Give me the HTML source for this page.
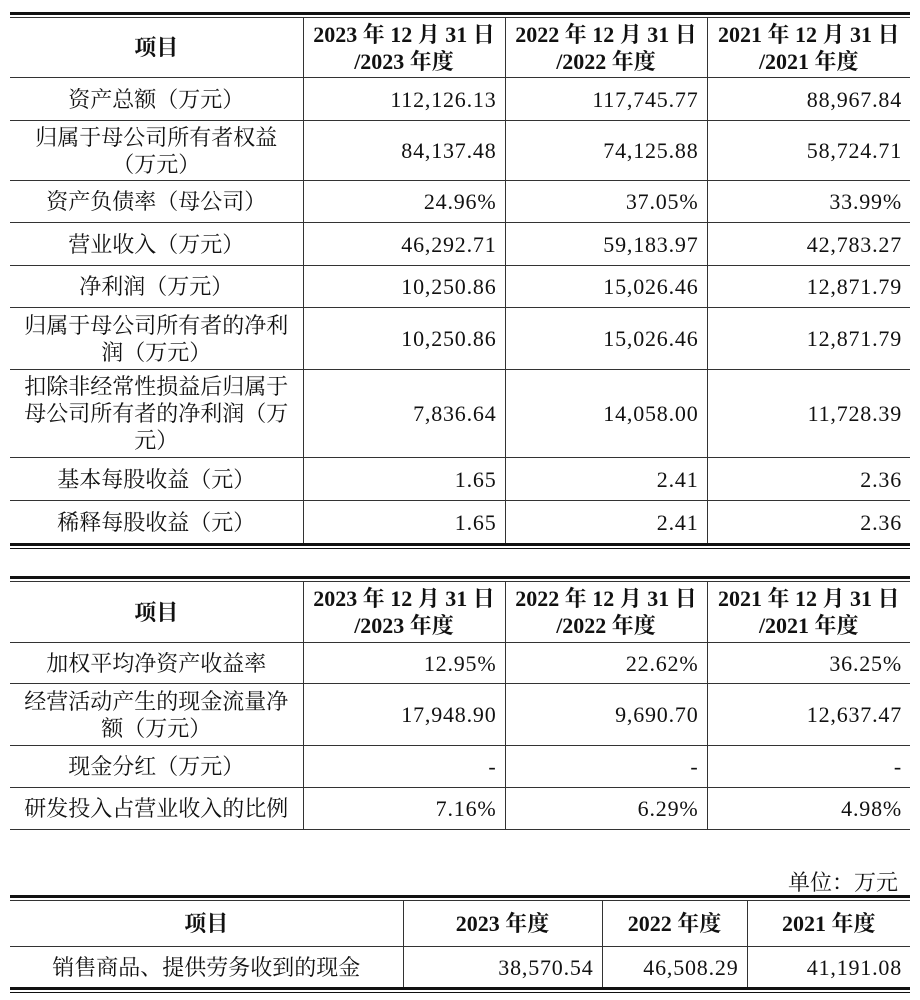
<!DOCTYPE html>
<html><head><meta charset="utf-8"><style>
body{margin:0;width:920px;height:1000px;background:#fff;position:relative;font-family:"Liberation Serif","Noto Serif CJK SC",serif;font-size:22px;color:#111;}
table{position:absolute;left:10px;width:900px;border-collapse:collapse;table-layout:fixed;}
td{border:1px solid #333;padding:0 10px 0 0;line-height:27px;}
tr td:first-child{border-left:none;text-align:center;padding:0 2px;white-space:nowrap;}
tr td:last-child{border-right:none;}
td.n{text-align:right;letter-spacing:0.8px;padding-right:8px;}
th{font-weight:bold;border:1px solid #333;line-height:27px;padding:0;white-space:nowrap;}
tr th:first-child{border-left:none;}tr th:last-child{border-right:none;}
.dl{position:absolute;left:10px;width:900px;height:2px;border-top:3px solid #111;border-bottom:1px solid #111;}
.u{position:absolute;right:22px;top:866px;}
</style></head><body>
<div class="dl" style="top:12px"></div>
<table style="top:17px">
<colgroup><col style="width:293px"><col style="width:202px"><col style="width:202px"><col style="width:203px"></colgroup>
<tr style="height:60px"><th>项目</th><th>2023 年 12 月 31 日<br>/2023 年度</th><th>2022 年 12 月 31 日<br>/2022 年度</th><th>2021 年 12 月 31 日<br>/2021 年度</th></tr>
<tr style="height:43px"><td>资产总额（万元）</td><td class="n">112,126.13</td><td class="n">117,745.77</td><td class="n">88,967.84</td></tr>
<tr style="height:60px"><td>归属于母公司所有者权益<br>（万元）</td><td class="n">84,137.48</td><td class="n">74,125.88</td><td class="n">58,724.71</td></tr>
<tr style="height:42px"><td>资产负债率（母公司）</td><td class="n">24.96%</td><td class="n">37.05%</td><td class="n">33.99%</td></tr>
<tr style="height:43px"><td>营业收入（万元）</td><td class="n">46,292.71</td><td class="n">59,183.97</td><td class="n">42,783.27</td></tr>
<tr style="height:42px"><td>净利润（万元）</td><td class="n">10,250.86</td><td class="n">15,026.46</td><td class="n">12,871.79</td></tr>
<tr style="height:62px"><td>归属于母公司所有者的净利<br>润（万元）</td><td class="n">10,250.86</td><td class="n">15,026.46</td><td class="n">12,871.79</td></tr>
<tr style="height:88px"><td>扣除非经常性损益后归属于<br>母公司所有者的净利润（万<br>元）</td><td class="n">7,836.64</td><td class="n">14,058.00</td><td class="n">11,728.39</td></tr>
<tr style="height:43px"><td>基本每股收益（元）</td><td class="n">1.65</td><td class="n">2.41</td><td class="n">2.36</td></tr>
<tr style="height:43px"><td>稀释每股收益（元）</td><td class="n">1.65</td><td class="n">2.41</td><td class="n">2.36</td></tr>
</table>
<div class="dl" style="top:543px"></div>
<div class="dl" style="top:576px"></div>
<table style="top:581px">
<colgroup><col style="width:293px"><col style="width:202px"><col style="width:202px"><col style="width:203px"></colgroup>
<tr style="height:61px"><th>项目</th><th>2023 年 12 月 31 日<br>/2023 年度</th><th>2022 年 12 月 31 日<br>/2022 年度</th><th>2021 年 12 月 31 日<br>/2021 年度</th></tr>
<tr style="height:41px"><td>加权平均净资产收益率</td><td class="n">12.95%</td><td class="n">22.62%</td><td class="n">36.25%</td></tr>
<tr style="height:62px"><td>经营活动产生的现金流量净<br>额（万元）</td><td class="n">17,948.90</td><td class="n">9,690.70</td><td class="n">12,637.47</td></tr>
<tr style="height:42px"><td>现金分红（万元）</td><td class="n">-</td><td class="n">-</td><td class="n">-</td></tr>
<tr style="height:42px"><td>研发投入占营业收入的比例</td><td class="n">7.16%</td><td class="n">6.29%</td><td class="n">4.98%</td></tr>
</table>
<div class="u">单位：万元</div>
<div class="dl" style="top:895px"></div>
<table style="top:900px">
<colgroup><col style="width:393px"><col style="width:199px"><col style="width:145px"><col style="width:163px"></colgroup>
<tr style="height:46px"><th>项目</th><th>2023 年度</th><th>2022 年度</th><th>2021 年度</th></tr>
<tr style="height:42px"><td>销售商品、提供劳务收到的现金</td><td class="n">38,570.54</td><td class="n">46,508.29</td><td class="n">41,191.08</td></tr>
</table>
<div class="dl" style="top:987px"></div>
</body></html>
